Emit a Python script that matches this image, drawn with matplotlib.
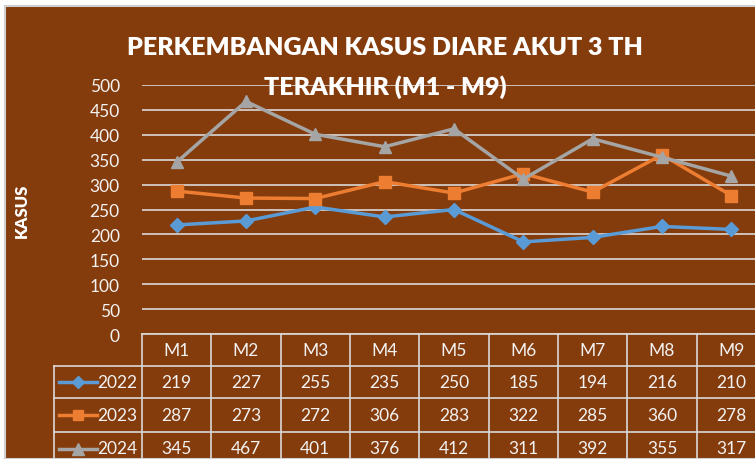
import matplotlib.pyplot as plt
from matplotlib.lines import Line2D
from matplotlib.patches import Rectangle

bulan = ['M1', 'M2', 'M3', 'M4', 'M5', 'M6', 'M7', 'M8', 'M9']
tahun = ['2022', '2023', '2024']
kasus_2022 = [219, 227, 255, 235, 250, 185, 194, 216, 210]
kasus_2023 = [287, 273, 272, 306, 283, 322, 285, 360, 278]
kasus_2024 = [345, 467, 401, 376, 412, 311, 392, 355, 317]
yticks = [0, 50, 100, 150, 200, 250, 300, 350, 400, 450, 500]

warna = ['#5B9BD5', '#ED7D31', '#A5A5A5']
penanda = ['D', 's', '^']
ukuran = [7, 8, 9]
coklat = '#843C0C'
putih = '#F2F2F2'
garis = '#D9D9D9'

plt.rcParams['font.family'] = ['Lato', 'DejaVu Sans']

W, H = 755, 460
fig = plt.figure(figsize=(W / 100, H / 100), dpi=100, facecolor='white')

# latar coklat
fig.patches.append(Rectangle((5 / W, 0), 1, 1 - 7 / H, transform=fig.transFigure,
                             facecolor=coklat, edgecolor='#CFCFCF', linewidth=1.5, zorder=-10))

def fx(px):
    return px / W

def fy(py):
    return 1 - py / H

# area grafik
x0, x1 = 142, 766
ax = fig.add_axes([fx(x0), fy(335), fx(x1 - x0), fy(86) - fy(335)])
ax.set_facecolor('none')
ax.set_xlim(-0.5, len(bulan) - 0.5)
ax.set_ylim(0, 500)
ax.set_yticks(yticks)
ax.set_xticks([])
ax.yaxis.grid(True, color=garis, linewidth=1.2)
ax.set_axisbelow(True)
for s in ax.spines.values():
    s.set_visible(False)
ax.tick_params(axis='y', length=0, pad=16, labelsize=12.5, labelcolor=putih)

seri = [kasus_2022, kasus_2023, kasus_2024]
for data, c, m, ms in zip(seri, warna, penanda, ukuran):
    ax.plot(range(len(bulan)), data, color=c, marker=m, markersize=ms,
            linewidth=2.5, clip_on=False, zorder=3)

fig.text(fx(22), fy(211), 'KASUS', rotation=90, ha='center', va='center',
         color='white', fontsize=12, fontweight='heavy')

fig.text(fx(385), fy(48), 'PERKEMBANGAN KASUS DIARE AKUT 3 TH', ha='center', va='center',
         color='white', fontsize=18, fontweight='heavy', zorder=5)
fig.text(fx(385), fy(87), 'TERAKHIR (M1 - M9)', ha='center', va='center',
         color='white', fontsize=18, fontweight='heavy', zorder=5)

# tabel data
tb = fig.add_axes([0, 0, 1, 1])
tb.set_xlim(0, W)
tb.set_ylim(H, 0)
tb.axis('off')
tb.patch.set_visible(False)

lebar = (x1 - x0) / len(bulan)
baris = [335, 367, 399, 433, 466]
kiri = 54
lw = 1.2
tb.plot([x0, x1], [baris[0], baris[0]], color=garis, lw=lw)
for yb in baris[1:4]:
    tb.plot([kiri, x1], [yb, yb], color=garis, lw=lw)
tb.plot([kiri, kiri], [baris[1], H], color=garis, lw=lw)
for i in range(len(bulan) + 1):
    xb = x0 + i * lebar
    tb.plot([xb, xb], [baris[0], H], color=garis, lw=lw)

for i, b in enumerate(bulan):
    xc = x0 + (i + 0.5) * lebar
    tb.text(xc, (baris[0] + baris[1]) / 2, b, ha='center', va='center',
            color=putih, fontsize=12.5)
    for r, data in enumerate(seri):
        tb.text(xc, (baris[r + 1] + baris[r + 2]) / 2, str(data[i]), ha='center',
                va='center', color=putih, fontsize=12.5)

for r, (t, c, m, ms) in enumerate(zip(tahun, warna, penanda, ukuran)):
    yc = (baris[r + 1] + baris[r + 2]) / 2
    tb.add_line(Line2D([59, 97], [yc, yc], color=c, lw=2.5))
    tb.add_line(Line2D([78], [yc], color=c, marker=m, markersize=ms - 1))
    tb.text(137, yc, t, ha='right', va='center', color=putih, fontsize=12.5)

fig.savefig('out.png', dpi=100, facecolor='white')
